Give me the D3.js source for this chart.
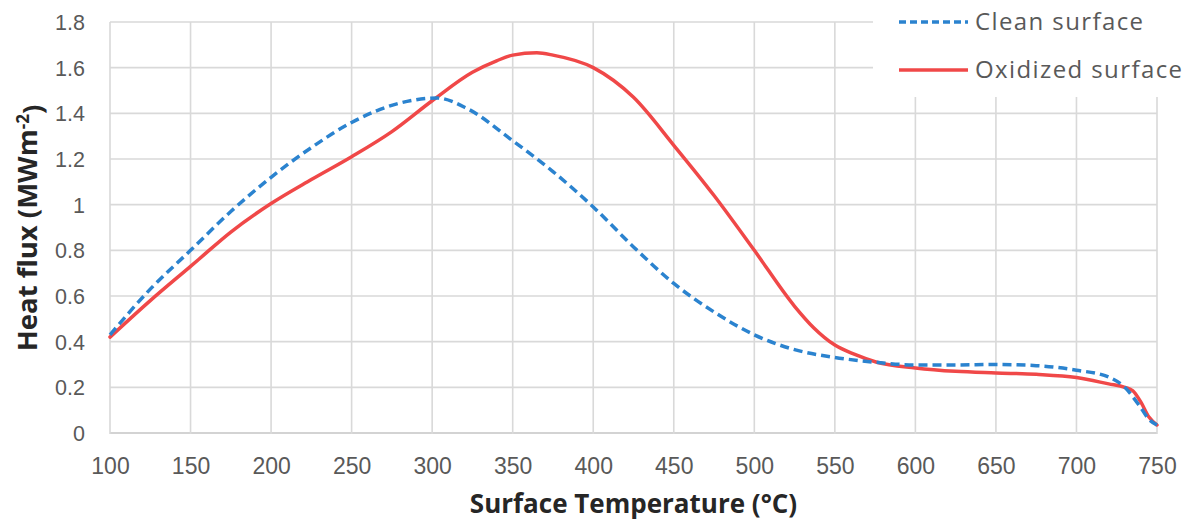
<!DOCTYPE html>
<html>
<head>
<meta charset="utf-8">
<script src="https://cdn.jsdelivr.net/npm/d3@7"></script>
<style>
  body { margin: 0; background: #fff; }
  svg { display: block; font-family: "Open Sans", Lato, sans-serif; }
</style>
</head>
<body>
<div id="chart"></div>
<script>
// surface temperature (°C) and heat flux (MW m^-2)
const cleanTemp = [100, 125, 150, 175, 200, 225, 250, 280, 303, 322, 350, 375, 400, 425, 450, 475, 500, 525, 550, 575, 600, 625, 650, 675, 700, 720, 730, 740, 745, 750];
const cleanFlux = [0.43, 0.63, 0.80, 0.97, 1.12, 1.25, 1.36, 1.445, 1.467, 1.42, 1.28, 1.145, 0.99, 0.815, 0.655, 0.53, 0.43, 0.365, 0.331, 0.31, 0.298, 0.298, 0.30, 0.295, 0.275, 0.245, 0.20, 0.11, 0.06, 0.035];

const oxTemp = [100, 125, 150, 155, 175, 200, 225, 250, 275, 300, 325, 340, 350, 365, 375, 400, 425, 450, 475, 500, 525, 537, 550, 562, 576, 600, 625, 650, 675, 700, 720, 730, 735, 740, 745, 750];
const oxFlux = [0.42, 0.58, 0.73, 0.76, 0.88, 1.005, 1.11, 1.21, 1.32, 1.455, 1.58, 1.63, 1.655, 1.665, 1.655, 1.60, 1.47, 1.26, 1.04, 0.80, 0.555, 0.46, 0.385, 0.345, 0.31, 0.285, 0.27, 0.263, 0.257, 0.243, 0.215, 0.20, 0.185, 0.135, 0.07, 0.035];

const xTicks = [100, 150, 200, 250, 300, 350, 400, 450, 500, 550, 600, 650, 700, 750];
const yTicks = [0, 0.2, 0.4, 0.6, 0.8, 1, 1.2, 1.4, 1.6, 1.8];

const seriesNames = ["Clean surface", "Oxidized surface"];
const seriesColors = ["#2b83cf", "#f04848"];

const W = 1199, H = 523;
const margin = {top: 22, right: 42, bottom: 90, left: 110};
const width = W - margin.left - margin.right;
const height = H - margin.top - margin.bottom;

const svg = d3.select("#chart").append("svg")
    .attr("width", W)
    .attr("height", H);

const g = svg.append("g")
    .attr("transform", "translate(" + margin.left + "," + margin.top + ")");

const xScale = d3.scaleLinear().domain([100, 750]).range([0, width]);
const yScale = d3.scaleLinear().domain([0, 1.8]).range([height, 0]);

// grid
g.append("g")
    .selectAll("line.hgrid")
    .data(yTicks)
    .join("line")
    .attr("class", "hgrid")
    .attr("x1", 0).attr("x2", width)
    .attr("y1", d => yScale(d)).attr("y2", d => yScale(d))
    .attr("stroke", d => d === 0 ? "#c4c4c4" : "#d9d9d9")
    .attr("stroke-width", 1.6);

g.append("g")
    .selectAll("line.vgrid")
    .data(xTicks)
    .join("line")
    .attr("class", "vgrid")
    .attr("x1", d => xScale(d)).attr("x2", d => xScale(d))
    .attr("y1", 0).attr("y2", height + 1)
    .attr("stroke", "#d9d9d9")
    .attr("stroke-width", 1.6);

// axes (labels only)
const xAxis = g.append("g")
    .attr("transform", "translate(0," + height + ")")
    .call(d3.axisBottom(xScale).tickValues(xTicks).tickSize(0).tickPadding(25).tickFormat(d3.format("d")));
xAxis.select(".domain").remove();
xAxis.selectAll("text")
    .attr("fill", "#595959")
    .style("font-size", "23px");

const yAxis = g.append("g")
    .call(d3.axisLeft(yScale).tickValues(yTicks).tickSize(0).tickPadding(25).tickFormat(d => d3.format("~g")(d)));
yAxis.select(".domain").remove();
yAxis.selectAll("text")
    .attr("fill", "#595959")
    .attr("dy", "0.35em")
    .style("font-size", "21.5px");

// lines
const lineGen = d3.line()
    .x(d => xScale(d[0]))
    .y(d => yScale(d[1]))
    .curve(d3.curveMonotoneX);

const cleanData = cleanTemp.map((t, i) => [t, cleanFlux[i]]);
const oxData = oxTemp.map((t, i) => [t, oxFlux[i]]);

g.append("path")
    .datum(oxData)
    .attr("d", lineGen)
    .attr("fill", "none")
    .attr("stroke", seriesColors[1])
    .attr("stroke-width", 3.5)
    .attr("stroke-linejoin", "round")
    .attr("stroke-linecap", "round");

g.append("path")
    .datum(cleanData)
    .attr("d", lineGen)
    .attr("fill", "none")
    .attr("stroke", seriesColors[0])
    .attr("stroke-width", 3.5)
    .attr("stroke-dasharray", "9,5");

// legend
const legend = svg.append("g");
legend.append("rect")
    .attr("x", 873).attr("y", 0)
    .attr("width", W - 873).attr("height", 97)
    .attr("fill", "#fff");

const legItems = legend.selectAll("g.item")
    .data(seriesNames)
    .join("g")
    .attr("class", "item")
    .attr("transform", (d, i) => "translate(0," + (22 + i * 48) + ")");

legItems.append("line")
    .attr("x1", 899).attr("x2", 968)
    .attr("y1", 0).attr("y2", 0)
    .attr("stroke", (d, i) => seriesColors[i])
    .attr("stroke-width", 3.5)
    .attr("stroke-dasharray", (d, i) => i === 0 ? "7,4" : null);

legItems.append("text")
    .attr("x", 975)
    .attr("y", 0)
    .attr("dy", "0.35em")
    .attr("fill", "#595959")
    .style("font-size", "24px")
    .style("letter-spacing", "1.4px")
    .text(d => d);

// axis titles
svg.append("text")
    .attr("x", margin.left + width / 2)
    .attr("y", 513)
    .attr("text-anchor", "middle")
    .attr("fill", "#262626")
    .style("font-size", "26px")
    .style("font-weight", "bold")
    .text("Surface Temperature (°C)");

const yTitle = svg.append("text")
    .attr("transform", "translate(37,228) rotate(-90)")
    .attr("text-anchor", "middle")
    .attr("fill", "#262626")
    .style("font-size", "27.5px")
    .style("font-weight", "bold");
yTitle.append("tspan").text("Heat flux (MWm");
yTitle.append("tspan").attr("dy", "-0.45em").style("font-size", "17px").text("-2");
yTitle.append("tspan").attr("dy", "0.45em").text(")");
</script>
</body>
</html>
